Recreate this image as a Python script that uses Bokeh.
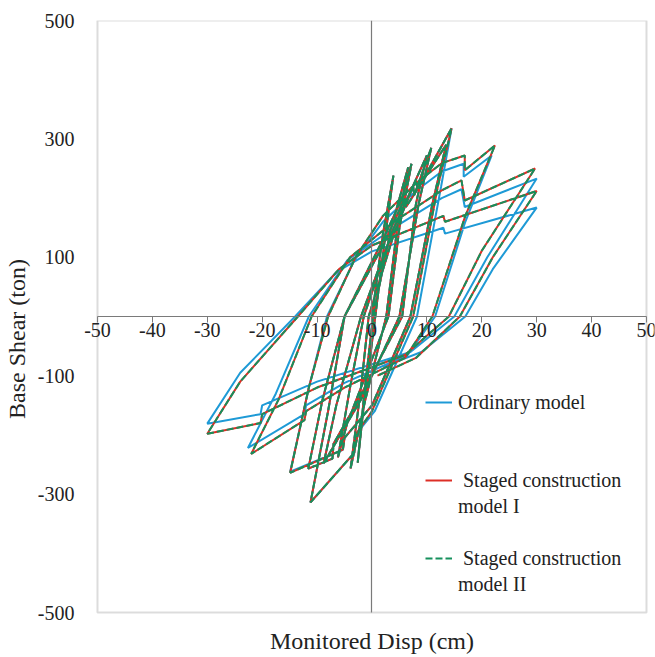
from bokeh.plotting import figure
from bokeh.models import (LinearAxis, FixedTicker, Legend, LegendItem,
                          Range1d, Label, LabelSet, ColumnDataSource,
                          CustomJSTickFormatter, BoxAnnotation)
from bokeh.core.properties import value
from bokeh.embed import file_html
from bokeh.resources import INLINE

# ---------------- data ----------------
x_ticks = [-50, -40, -30, -20, -10, 0, 10, 20, 30, 40, 50]
x_tick_labels = ["-50", "-40", "-30", "-20", "-10", "0", "10", "20", "30", "40", "50"]
y_ticks = [-500, -300, -100, 100, 300, 500]
labels = ["Ordinary model", " Staged construction", "model I",
          " Staged construction", "model II"]

# Ordinary model (cm, ton)
ord_x = [0, 2.0, 3.9, 2.2, 0.6, -1.6, -2.6,
         -1.4, 0.2, 3.5, 6.6,
         4.6, 2.6, -1.2, -3.9,
         -2.0, -0.6, 4.0, 7.5, 7.7, 10.8,
         8.5, 5.0, -2.0, -8.8,
         -6.5, -2.0, 4.0, 10.0,
         8.0, 5.5, -3.0, -7.0, -7.2, -11.6,
         -9.0, -5.0, 2.0, 5.5, 7.2,
         5.0, 3.0, -4.5, -6.2,
         -4.0, -1.5, 4.0, 8.0, 8.3, 14.5,
         12.6, 8.2, 0.5, -3.0, -3.2, -11.2,
         -8.0, -5.0, 2.0, 6.0, 6.2, 13.5,
         11.0, 7.0, 0.0, -5.0, -5.3, -14.9,
         -11.5, -8.2, -3.2, 2.0, 8.0, 12.7, 16.7, 16.7, 21.8,
         17.0, 11.5, 6.5, -5.0, -12.0, -12.3, -22.6,
         -17.5, -11.5, -4.5, 4.0, 12.7, 16.3, 16.9, 30.0,
         21.0, 15.0, 7.0, -10.0, -20.0, -20.3, -30.0,
         -24.0, -14.0, -6.5, 0.0, 13.0, 13.3, 30.0,
         22.0, 17.0, 9.0, 2.0]
ord_y = [0, 140, 238, 120, 0, -160, -247,
         -130, 0, 150, 252,
         150, 0, -140, -257,
         -120, 0, 140, 220, 205, 285,
         190, 0, -140, -248,
         -150, 0, 150, 272,
         190, 0, -150, -215, -240, -257,
         -140, 0, 130, 200, 258,
         150, 0, -180, -238,
         -120, 0, 150, 230, 215, 318,
         220, 0, -160, -200, -230, -314,
         -160, 0, 120, 200, 185, 290,
         190, 0, -150, -205, -225, -262,
         -120, 0, 95, 160, 212, 245, 258, 236, 272,
         160, 0, -65, -112, -150, -165, -222,
         -130, 0, 95, 150, 200, 215, 185, 233,
         100, 0, -60, -110, -150, -165, -181,
         -95, 0, 75, 110, 150, 140, 184,
         80, 0, -60, -85]

# Staged construction model I
st1_x = [0, 2.0, 3.9, 2.2, 0.6, -1.6, -2.6,
         -1.4, 0.2, 3.5, 6.6,
         4.6, 2.6, -1.2, -3.9,
         -2.0, -0.6, 4.0, 7.5, 7.7, 10.8,
         8.5, 5.0, -2.0, -8.8,
         -6.5, -2.0, 4.0, 10.0,
         8.0, 5.5, -3.0, -7.0, -7.2, -11.6,
         -9.0, -5.0, 2.0, 5.5, 7.2,
         5.0, 3.0, -4.5, -6.2,
         -4.0, -1.5, 4.0, 8.0, 8.3, 14.5,
         12.0, 7.5, 0.0, -3.0, -3.2, -11.2,
         -8.0, -5.0, 2.0, 6.0, 6.2, 13.5,
         11.0, 7.0, 0.0, -5.0, -5.3, -14.9,
         -11.5, -8.0, -3.0, 2.0, 8.0, 12.7, 16.9, 16.9, 22.4,
         17.0, 11.0, 6.0, -5.0, -12.0, -12.3, -22.0,
         -17.0, -11.0, -4.0, 4.0, 12.7, 16.3, 16.9, 29.7,
         20.0, 14.0, 6.0, -10.0, -20.0, -20.3, -30.0,
         -24.0, -13.5, -6.0, 0.0, 13.0, 13.3, 30.0,
         22.0, 16.0, 8.0, 1.0]
st1_y = [0, 140, 238, 120, 0, -160, -247,
         -130, 0, 150, 252,
         150, 0, -140, -257,
         -120, 0, 140, 220, 205, 285,
         190, 0, -140, -248,
         -150, 0, 150, 272,
         190, 0, -150, -215, -240, -257,
         -140, 0, 130, 200, 258,
         150, 0, -180, -238,
         -120, 0, 150, 230, 215, 318,
         220, 0, -160, -200, -230, -314,
         -160, 0, 120, 200, 185, 290,
         190, 0, -150, -205, -225, -264,
         -120, 0, 100, 170, 225, 259, 272, 247, 289,
         170, 0, -70, -120, -160, -175, -232,
         -140, 0, 100, 160, 213, 230, 196, 250,
         111, 0, -65, -120, -165, -180, -198,
         -110, 0, 80, 120, 170, 160, 212,
         100, 0, -70, -100]

# Staged construction model II
st2_x = [0, 2.0, 3.9, 2.2, 0.6, -1.6, -2.6,
         -1.4, 0.2, 3.5, 6.6,
         4.6, 2.6, -1.2, -3.9,
         -2.0, -0.6, 4.0, 7.5, 7.7, 10.8,
         8.5, 5.0, -2.0, -8.8,
         -6.5, -2.0, 4.0, 10.0,
         8.0, 5.5, -3.0, -7.0, -7.2, -11.6,
         -9.0, -5.0, 2.0, 5.5, 7.2,
         5.0, 3.0, -4.5, -6.2,
         -4.0, -1.5, 4.0, 8.0, 8.3, 14.5,
         12.0, 7.5, 0.0, -3.0, -3.2, -11.2,
         -8.0, -5.0, 2.0, 6.0, 6.2, 13.5,
         11.0, 7.0, 0.0, -5.0, -5.3, -14.9,
         -11.5, -8.0, -3.0, 2.0, 8.0, 12.7, 16.9, 16.9, 22.4,
         17.0, 11.0, 6.0, -5.0, -12.0, -12.3, -22.0,
         -17.0, -11.0, -4.0, 4.0, 12.7, 16.3, 16.9, 29.7,
         20.0, 14.0, 6.0, -10.0, -20.0, -20.3, -30.0,
         -24.0, -13.5, -6.0, 0.0, 13.0, 13.3, 30.0,
         22.0, 16.0, 8.0, 1.0]
st2_y = [0, 140, 238, 120, 0, -160, -247,
         -130, 0, 150, 252,
         150, 0, -140, -257,
         -120, 0, 140, 220, 205, 285,
         190, 0, -140, -248,
         -150, 0, 150, 272,
         190, 0, -150, -215, -240, -257,
         -140, 0, 130, 200, 258,
         150, 0, -180, -238,
         -120, 0, 150, 230, 215, 318,
         220, 0, -160, -200, -230, -314,
         -160, 0, 120, 200, 185, 290,
         190, 0, -150, -205, -225, -264,
         -120, 0, 100, 170, 225, 259, 272, 247, 289,
         170, 0, -70, -120, -160, -175, -232,
         -140, 0, 100, 160, 213, 230, 196, 250,
         111, 0, -65, -120, -165, -180, -198,
         -110, 0, 80, 120, 170, 160, 212,
         100, 0, -70, -100]

# ---------------- styling ----------------
FONT = "Liberation Serif"
BLUE = "#1e9ad6"
RED = "#dd2f26"
GREEN = "#15905c"
FRAME = "#8a8a8a"
AXC = "#7a7a7a"
TXT = "#222222"

X_LO, X_HI = x_ticks[0], x_ticks[-1]
Y_LO, Y_HI = y_ticks[0], y_ticks[-1]

# The frame is a little larger than the data box (drawn as a box annotation),
# so that the end tick labels and the x title are not clipped.
p = figure(width=655, height=657,
           x_range=Range1d(X_LO - 2.73, X_HI + 1.46),
           y_range=Range1d(Y_LO - 76.0, Y_HI),
           output_backend="svg", toolbar_location=None,
           x_axis_location=None, y_axis_location=None,
           min_border_left=82, min_border_right=1,
           min_border_top=20, min_border_bottom=0)
p.grid.visible = False
p.outline_line_color = None
p.background_fill_color = "white"
p.border_fill_color = "white"

# plot box border
p.add_layout(BoxAnnotation(left=X_LO, right=X_HI, bottom=Y_LO, top=Y_HI,
                           fill_alpha=0, line_color=FRAME, line_width=2))

# left axis (labels only)
yax = LinearAxis(ticker=FixedTicker(ticks=y_ticks), axis_label="Base Shear (ton)",
                 formatter=CustomJSTickFormatter(code="return tick.toFixed(0);"))
yax.axis_line_color = None
yax.major_tick_line_color = None
yax.minor_tick_line_color = None
yax.major_label_text_font = FONT
yax.major_label_text_font_size = "20px"
yax.major_label_text_color = TXT
yax.major_label_standoff = 2
yax.axis_label_text_font = FONT
yax.axis_label_text_font_size = "24px"
yax.axis_label_text_font_style = "normal"
yax.axis_label_text_color = TXT
yax.axis_label_standoff = 5
p.add_layout(yax, "left")

# vertical line at x = 0 (axis crossing, no ticks)
vax = LinearAxis(ticker=FixedTicker(ticks=[]), fixed_location=0,
                 bounds=(Y_LO, Y_HI))
vax.axis_line_color = AXC
vax.axis_line_width = 1.2
vax.major_tick_line_color = None
vax.minor_tick_line_color = None
vax.major_label_text_font_size = "0px"
p.add_layout(vax, "left")

# x axis crossing at y = 0 (line and ticks; labels drawn below as a label set)
xax = LinearAxis(ticker=FixedTicker(ticks=x_ticks), fixed_location=0,
                 bounds=(X_LO, X_HI))
xax.axis_line_color = AXC
xax.axis_line_width = 1.2
xax.major_tick_line_color = AXC
xax.major_tick_in = 0
xax.major_tick_out = 6
xax.minor_tick_line_color = None
xax.major_label_text_font_size = "0px"
xax.major_label_text_alpha = 0
p.add_layout(xax, "below")

tick_src = ColumnDataSource(dict(x=x_ticks, y=[0] * len(x_ticks), t=x_tick_labels))
p.add_layout(LabelSet(x="x", y="y", text="t", source=tick_src, y_offset=-6,
                      text_align="center", text_baseline="top",
                      text_font=value(FONT), text_font_size="20px",
                      text_color=TXT))

# x title, below the box
p.add_layout(Label(x=0, y=Y_LO, y_offset=-28, text="Monitored Disp (cm)",
                   text_align="center", text_baseline="middle",
                   text_font=FONT, text_font_size="24px", text_color=TXT))

rb = p.line(ord_x, ord_y, line_color=BLUE, line_width=2)
rr = p.line(st1_x, st1_y, line_color=RED, line_width=2)
rg = p.line(st2_x, st2_y, line_color=GREEN, line_width=2, line_dash="7 3")

# invisible renderer used for the text-only legend rows (blank and second lines)
blank = p.line([], [], line_alpha=0)

rows = [(labels[0], rb), ("", blank), ("", blank),
        (labels[1], rr), (labels[2], blank), ("", blank),
        (labels[3], rg), (labels[4], blank)]
legend = Legend(items=[LegendItem(label=value(t), renderers=[r]) for t, r in rows],
                location=(343, 60), padding=0, margin=0, spacing=0,
                label_height=26, glyph_width=27, glyph_height=20, label_standoff=6,
                label_text_font=FONT, label_text_font_size="20px",
                label_text_color=TXT,
                background_fill_alpha=0, border_line_alpha=0)
p.add_layout(legend)

open("out.html", "w").write(file_html(p, INLINE))
